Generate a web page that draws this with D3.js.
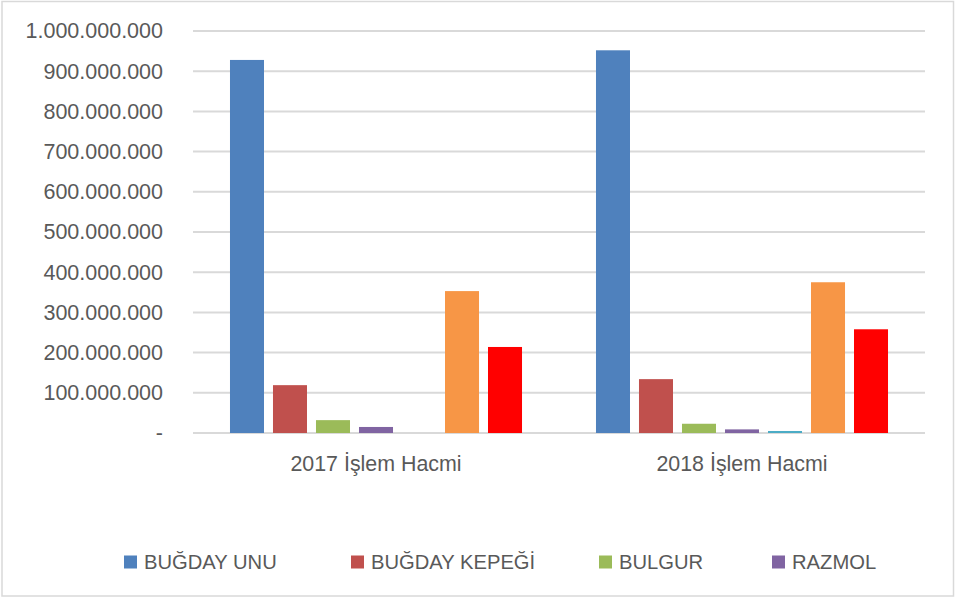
<!DOCTYPE html>
<html>
<head>
<meta charset="utf-8">
<script src="https://cdn.jsdelivr.net/npm/d3@7"></script>
<style>
  body { margin: 0; background: #fff; }
  text { font-family: "Liberation Sans", Arial, sans-serif; fill: #595959; }
</style>
</head>
<body>
<div id="chart"></div>
<script>
// data
const categories = ["2017 İşlem Hacmi", "2018 İşlem Hacmi"];
const series = ["BUĞDAY UNU", "BUĞDAY KEPEĞİ", "BULGUR", "RAZMOL", "SERİ 5", "SERİ 6", "SERİ 7"];
const values2017 = [928000000, 119000000, 32000000, 15000000, 0, 353000000, 214000000];
const values2018 = [952000000, 134000000, 23000000, 9000000, 5000000, 375000000, 258000000];
const yTicks = [0, 100000000, 200000000, 300000000, 400000000, 500000000, 600000000, 700000000, 800000000, 900000000, 1000000000];
const legendSeries = ["BUĞDAY UNU", "BUĞDAY KEPEĞİ", "BULGUR", "RAZMOL"];

const colors = ["#4F81BD", "#C0504D", "#9BBB59", "#8064A2", "#4BACC6", "#F79646", "#FF0000"];

const W = 959, H = 597;
const plot = { left: 193, right: 925, top: 31, bottom: 433 };

const svg = d3.select("#chart")
    .append("svg")
    .attr("width", W)
    .attr("height", H);

// outer border
svg.append("rect")
    .attr("x", 2).attr("y", 1.5)
    .attr("width", 951.5).attr("height", 594.5)
    .attr("fill", "none")
    .attr("stroke", "#D9D9D9")
    .attr("stroke-width", 1.5);

const y = d3.scaleLinear()
    .domain([0, 1000000000])
    .range([plot.bottom, plot.top]);

const x0 = d3.scaleBand()
    .domain(categories)
    .range([plot.left, plot.right]);

const x1 = d3.scaleBand()
    .domain(series)
    .range([0, x0.bandwidth()])
    .paddingInner(0.209)
    .paddingOuter(0.86);

const tr = d3.formatLocale({ decimal: ",", thousands: ".", grouping: [3], currency: ["", ""] });
const fmt = tr.format(",d");

// gridlines
svg.append("g")
    .selectAll("line")
    .data(yTicks)
    .join("line")
    .attr("x1", plot.left)
    .attr("x2", plot.right)
    .attr("y1", d => y(d))
    .attr("y2", d => y(d))
    .attr("stroke", "#D9D9D9")
    .attr("stroke-width", 2);

// y axis labels
const yAxis = svg.append("g")
    .attr("transform", `translate(${plot.left - 30},0)`)
    .call(d3.axisLeft(y).tickValues(yTicks).tickSize(0).tickPadding(0)
        .tickFormat(d => d === 0 ? "-" : fmt(d)));
yAxis.select(".domain").remove();
yAxis.selectAll("text")
    .style("font-size", "21.5px")
    .style("font-family", "'Liberation Sans', Arial, sans-serif")
    .attr("fill", "#595959");

// bars
const data = categories.map((c, i) => ({
    cat: c,
    vals: series.map((s, j) => ({ s, v: (i === 0 ? values2017 : values2018)[j], color: colors[j] }))
}));

svg.append("g")
    .selectAll("g")
    .data(data)
    .join("g")
    .attr("transform", d => `translate(${x0(d.cat)},0)`)
    .selectAll("rect")
    .data(d => d.vals)
    .join("rect")
    .attr("x", d => x1(d.s))
    .attr("y", d => y(d.v))
    .attr("width", x1.bandwidth())
    .attr("height", d => y(0) - y(d.v))
    .attr("fill", d => d.color);

// x axis labels
const xAxis = svg.append("g")
    .attr("transform", `translate(0,${plot.bottom + 23})`)
    .call(d3.axisBottom(x0).tickSize(0).tickPadding(0));
xAxis.select(".domain").remove();
xAxis.selectAll("text")
    .style("font-size", "21.4px")
    .style("font-family", "'Liberation Sans', Arial, sans-serif")
    .attr("fill", "#595959");

// legend
const legendX = [124, 351, 599, 772];
const legend = svg.append("g")
    .selectAll("g")
    .data(legendSeries)
    .join("g")
    .attr("transform", (d, i) => `translate(${legendX[i]},562)`);

legend.append("rect")
    .attr("x", 0).attr("y", -6.5)
    .attr("width", 13).attr("height", 13)
    .attr("fill", (d, i) => colors[i]);

legend.append("text")
    .attr("x", 20)
    .attr("dy", "0.35em")
    .style("font-size", "20.2px")
    .text(d => d);
</script>
</body>
</html>
